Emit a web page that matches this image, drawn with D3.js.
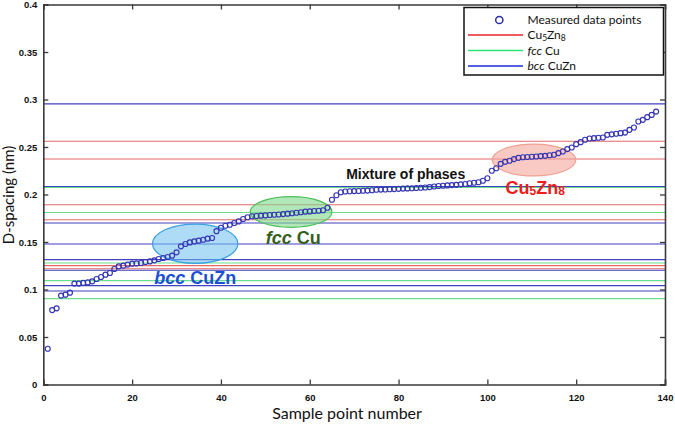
<!DOCTYPE html>
<html><head><meta charset="utf-8">
<script src="https://cdn.jsdelivr.net/npm/d3@7"></script>
<style>body{margin:0;background:#fff}svg{display:block}</style>
</head><body><svg id="c" width="675" height="424"></svg>
<script>
// Measured D-spacing (nm) for sample points 1..138
const dSpacing = [
0.0376,0.0783,0.0802,0.0936,0.0946,0.0967,0.1062,0.1062,0.1069,0.1075,
0.1086,0.1111,0.1132,0.1156,0.1174,0.1216,0.1244,0.1251,0.1262,0.1272,
0.1275,0.1279,0.1290,0.1296,0.1307,0.1321,0.1332,0.1342,0.1356,0.1391,
0.1454,0.1479,0.1496,0.1506,0.1514,0.1524,0.1535,0.1542,0.1614,0.1650,
0.1671,0.1682,0.1700,0.1717,0.1742,0.1761,0.1771,0.1774,0.1777,0.1780,
0.1784,0.1787,0.1790,0.1794,0.1798,0.1803,0.1808,0.1813,0.1819,0.1822,
0.1826,0.1829,0.1834,0.1861,0.1945,0.1992,0.2024,0.2032,0.2034,0.2036,
0.2037,0.2039,0.2041,0.2045,0.2050,0.2052,0.2053,0.2055,0.2057,0.2060,
0.2062,0.2064,0.2066,0.2068,0.2071,0.2074,0.2078,0.2084,0.2089,0.2092,
0.2096,0.2099,0.2102,0.2107,0.2111,0.2118,0.2124,0.2129,0.2145,0.2171,
0.2250,0.2276,0.2323,0.2344,0.2355,0.2373,0.2386,0.2392,0.2395,0.2397,
0.2400,0.2404,0.2407,0.2413,0.2418,0.2436,0.2453,0.2478,0.2495,0.2530,
0.2551,0.2576,0.2589,0.2593,0.2597,0.2600,0.2628,0.2633,0.2639,0.2646,
0.2652,0.2681,0.2705,0.2768,0.2786,0.2814,0.2838,0.2873
];
// Reference d-spacings (nm) for each phase
const cu5zn8Lines = [0.2560,0.2373,0.1892,0.1735,0.1251,0.1219];
const fccCuLines  = [0.2074,0.1811,0.1279,0.1093,0.0904];
const bccCuZnLines = [0.2954,0.2085,0.1700,0.1479,0.1314,0.1202,0.1041,0.0985];
const xTicks = [0,20,40,60,80,100,120,140];
const yTicks = [0,0.05,0.1,0.15,0.2,0.25,0.3,0.35,0.4];
const yTickLabels = ["0","0.05","0.1","0.15","0.2","0.25","0.3","0.35","0.4"];
const legendNames = ["Measured data points","Cu5Zn8","fcc Cu","bcc CuZn"];
// Phase region highlights: [centre sample, centre d, half-width samples, half-height d]
const regionBcc = [34.2, 0.1482, 9.6, 0.0207];
const regionFcc = [55.8, 0.1816, 9.2, 0.0161];
const regionCu5 = [110.5, 0.2363, 9.4, 0.0168];

const svg = d3.select("#c");
const L = 43.3, R = 665, T = 4.5, B = 384.5;
const x = d3.scaleLinear().domain([0,140]).range([L,R]);
const y = d3.scaleLinear().domain([0,0.4]).range([B,T]);

const colRed = "#e46a6a", colGreen = "#6ade8a", colBlue = "#4040c2";

// reference lines
const lines = [];
cu5zn8Lines.forEach(v=>lines.push({v,c:colRed}));
fccCuLines.forEach(v=>lines.push({v,c:colGreen}));
bccCuZnLines.forEach(v=>lines.push({v,c:colBlue}));
svg.append("g").selectAll("line").data(lines).join("line")
  .attr("x1",x(0)).attr("x2",x(140))
  .attr("y1",d=>y(d.v)).attr("y2",d=>y(d.v))
  .attr("stroke",d=>d.c).attr("stroke-width",1.1);

// region ellipses
function ell(r, fill, stroke, op){
  svg.append("ellipse")
    .attr("cx",x(r[0])).attr("cy",y(r[1]))
    .attr("rx",x(r[2])-x(0)).attr("ry",y(0)-y(r[3]))
    .attr("fill",fill).attr("fill-opacity",op)
    .attr("stroke",stroke).attr("stroke-width",1.2);
}
ell(regionBcc,"#6cc0f0","#3aa0e0",0.55);
ell(regionFcc,"#7fd98a","#4cbf5a",0.6);
ell(regionCu5,"#f3a69b","#f0a090",0.6);

// data points
svg.append("g").selectAll("circle").data(dSpacing).join("circle")
  .attr("cx",(d,i)=>x(i+1)).attr("cy",d=>y(d)).attr("r",2.5)
  .attr("fill","none").attr("stroke","#3434b4").attr("stroke-width",1.15);

// axes frame
const ax = "#3a3a3a";
const gx = svg.append("g").attr("transform",`translate(0,${B})`)
  .call(d3.axisBottom(x).tickValues(xTicks).tickSize(-5).tickPadding(9.5).tickFormat(d3.format("d")));
const gxt = svg.append("g").attr("transform",`translate(0,${T})`)
  .call(d3.axisTop(x).tickValues(xTicks).tickSize(-5).tickFormat(""));
const gy = svg.append("g").attr("transform",`translate(${L},0)`)
  .call(d3.axisLeft(y).tickValues(yTicks).tickSize(-5).tickPadding(6).tickFormat((d,i)=>yTickLabels[i]));
const gyr = svg.append("g").attr("transform",`translate(${R},0)`)
  .call(d3.axisRight(y).tickValues(yTicks).tickSize(-5).tickFormat(""));
[gx,gxt,gy,gyr].forEach(g=>{
  g.select(".domain").attr("stroke",ax).attr("stroke-width",1.6);
  g.selectAll(".tick line").attr("stroke",ax).attr("stroke-width",1.3);
  g.selectAll("text").attr("font-family","Liberation Sans, Arial, sans-serif")
    .attr("font-size",9.5).attr("font-weight","bold").attr("fill","#111");
});

// axis titles
svg.append("text").attr("x",347).attr("y",418.5).attr("text-anchor","middle")
  .attr("font-family","Lato, sans-serif").attr("font-size",16).attr("fill","#111")
  .text("Sample point number");
svg.append("text").attr("transform","translate(14,195) rotate(-90)").attr("text-anchor","middle")
  .attr("font-family","Lato, sans-serif").attr("font-size",15).attr("fill","#111")
  .text("D-spacing (nm)");

// annotations
const af = "Liberation Sans, Arial, sans-serif";
const t1 = svg.append("text").attr("x",x(25)).attr("y",y(0.1063))
  .attr("font-family",af).attr("font-size",18).attr("font-weight","bold").attr("fill","#1b4fd8");
t1.append("tspan").attr("font-style","italic").text("bcc");
t1.append("tspan").text(" CuZn");
const t2 = svg.append("text").attr("x",x(50.1)).attr("y",y(0.1479))
  .attr("font-family",af).attr("font-size",18).attr("font-weight","bold").attr("fill","#355f1c");
t2.append("tspan").attr("font-style","italic").text("fcc");
t2.append("tspan").text(" Cu");
svg.append("text").attr("x",x(68.2)).attr("y",y(0.2163))
  .attr("font-family",af).attr("font-size",14).attr("font-weight","bold").attr("fill","#111")
  .text("Mixture of phases");
const t4 = svg.append("text").attr("x",x(104.1)).attr("y",y(0.2005))
  .attr("font-family",af).attr("font-size",18).attr("font-weight","bold").attr("fill","#ec1c1c");
t4.append("tspan").text("Cu");
t4.append("tspan").attr("font-size",12).attr("dy",1).text("5");
t4.append("tspan").attr("dy",-1).text("Zn");
t4.append("tspan").attr("font-size",12).attr("dy",1).text("8");

// legend
const lg = svg.append("g");
lg.append("rect").attr("x",464).attr("y",7.5).attr("width",199.5).attr("height",67.5)
  .attr("fill","#fff").attr("stroke","#111").attr("stroke-width",1.5);
const rowsY = [20,35,50.5,66];
const lf = "Lato, sans-serif";
lg.append("circle").attr("cx",499.3).attr("cy",rowsY[0]).attr("r",3.6)
  .attr("fill","none").attr("stroke","#2a2aa8").attr("stroke-width",1.5);
[["#e8242a",1],["#2ee57a",2],["#1a2ed8",3]].forEach(([c,k])=>{
  lg.append("line").attr("x1",468).attr("x2",523).attr("y1",rowsY[k]).attr("y2",rowsY[k])
    .attr("stroke",c).attr("stroke-width",1.6);
});
function legText(k){ return lg.append("text").attr("x",527.5).attr("y",rowsY[k]+4.3)
  .attr("font-family",lf).attr("font-size",12).attr("fill","#111"); }
legText(0).text(legendNames[0]);
const l1 = legText(1);
l1.append("tspan").text("Cu");
l1.append("tspan").attr("font-size",8.5).attr("dy",1.5).text("5");
l1.append("tspan").attr("dy",-1.5).text("Zn");
l1.append("tspan").attr("font-size",8.5).attr("dy",1.5).text("8");
const l2 = legText(2);
l2.append("tspan").attr("font-style","italic").text("fcc");
l2.append("tspan").text(" Cu");
const l3 = legText(3);
l3.append("tspan").attr("font-style","italic").text("bcc");
l3.append("tspan").text(" CuZn");
</script></body></html>
